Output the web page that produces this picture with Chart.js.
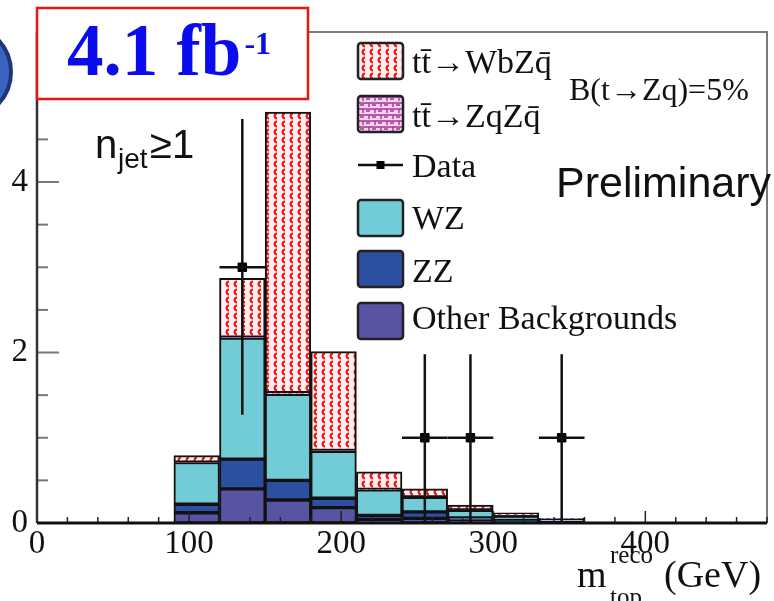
<!DOCTYPE html>
<html>
<head>
<meta charset="utf-8">
<title>m_top reco</title>
<script src="https://cdn.jsdelivr.net/npm/chart.js@4.4.1/dist/chart.umd.min.js"></script>
<style>
  html, body { margin: 0; padding: 0; background: #fff; }
  #wrap { width: 774px; height: 601px; position: relative; }
</style>
</head>
<body>
<div id="wrap"><canvas id="mtopChart"></canvas></div>
<script>
// 30 GeV bins from 0 to 480 GeV (bin centres)
const binCenters = [15, 45, 75, 105, 135, 165, 195, 225, 255, 285, 315, 345, 375, 405, 435, 465];

// stacked components, bottom to top
const otherBkg = [0, 0, 0, 0.12, 0.40, 0.27, 0.18, 0.04, 0.055, 0.035, 0.015, 0.005, 0.004, 0, 0, 0];
const zzBkg    = [0, 0, 0, 0.10, 0.35, 0.23, 0.11, 0.05, 0.075, 0.025, 0.015, 0.005, 0.002, 0, 0, 0];
const wzBkg    = [0, 0, 0, 0.49, 1.42, 1.01, 0.55, 0.30, 0.17, 0.09, 0.05, 0.04, 0.004, 0, 0, 0];
const ttZqZq   = [0, 0, 0, 0.005, 0.01, 0.02, 0.01, 0.005, 0.005, 0.003, 0.002, 0.001, 0, 0, 0, 0];
const ttWbZq   = [0, 0, 0, 0.075, 0.69, 3.29, 1.16, 0.205, 0.095, 0.057, 0.038, 0.004, 0, 0, 0, 0];

// observed events
const dataX = [135, 255, 285, 345];
const dataY = [3, 1, 1, 1];
const dataErrUp = [1.74, 0.98, 0.98, 0.98];
const dataErrDown = [1.73, 1, 1, 1];
const binHalfWidth = 15;

// axis labels
const xTicks = [0, 100, 200, 300, 400];
const yTicks = [0, 2, 4];

const canvasEl = document.getElementById('mtopChart');
const ctx = canvasEl.getContext('2d');

const SERIF = '"Liberation Serif", "Times New Roman", serif';
const SANS = '"Liberation Sans", Arial, sans-serif';

// red "wavy dots" hatch of the t tbar -> WbZq signal
function makeWbZqPattern() {
  const c = document.createElement('canvas');
  c.width = 8; c.height = 8;
  const g = c.getContext('2d');
  g.fillStyle = '#ffecec';
  g.fillRect(0, 0, 8, 8);
  g.strokeStyle = '#ea1515';
  g.lineWidth = 2.2;
  g.beginPath();
  g.arc(5, 4, 2.4, Math.PI * 0.5, Math.PI * 1.5);
  g.stroke();
  return ctx.createPattern(c, 'repeat');
}

// magenta brick hatch of t tbar -> ZqZq
function makeZqZqPattern() {
  const c = document.createElement('canvas');
  c.width = 12; c.height = 12;
  const g = c.getContext('2d');
  g.fillStyle = '#f4d3ec';
  g.fillRect(0, 0, 12, 12);
  g.strokeStyle = '#a5339a';
  g.lineWidth = 1.4;
  g.beginPath();
  g.moveTo(0, 1); g.lineTo(12, 1);
  g.moveTo(0, 7); g.lineTo(12, 7);
  g.moveTo(3, 1); g.lineTo(3, 5);
  g.moveTo(9, 7); g.lineTo(9, 11);
  g.moveTo(6, 3); g.lineTo(10, 3);
  g.moveTo(0, 9); g.lineTo(4, 9);
  g.stroke();
  return ctx.createPattern(c, 'repeat');
}

const wbzqFill = makeWbZqPattern();
const zqzqFill = makeZqZqPattern();

const COLORS = {
  other: '#5654a3',
  zz: '#2b4fa1',
  wz: '#72ccd8'
};

function histDataset(label, values, fill) {
  return {
    label: label,
    data: binCenters.map((x, i) => ({ x: x, y: values[i] })),
    backgroundColor: fill,
    borderColor: '#111',
    borderWidth: 2,
    borderSkipped: false,
    barPercentage: 1,
    categoryPercentage: 1
  };
}

// extra drawing: error bars, inner ticks, frame, legend and labels
const decorPlugin = {
  id: 'decor',
  afterDatasetsDraw(chart) {
    const c = chart.ctx;
    const xs = chart.scales.x;
    const ys = chart.scales.y;
    const area = chart.chartArea;

    // data error bars
    c.save();
    c.strokeStyle = '#111';
    c.lineWidth = 2.5;
    dataX.forEach((x, i) => {
      const px = xs.getPixelForValue(x);
      const py = ys.getPixelForValue(dataY[i]);
      c.beginPath();
      c.moveTo(px, ys.getPixelForValue(dataY[i] + dataErrUp[i]));
      c.lineTo(px, ys.getPixelForValue(dataY[i] - dataErrDown[i]));
      c.moveTo(xs.getPixelForValue(x - binHalfWidth), py);
      c.lineTo(xs.getPixelForValue(x + binHalfWidth), py);
      c.stroke();
    });
    c.restore();

    // frame
    c.save();
    c.strokeStyle = '#7a7a7a';
    c.lineWidth = 2;
    c.beginPath();
    c.moveTo(area.left, area.top);
    c.lineTo(area.right, area.top);
    c.lineTo(area.right, area.bottom);
    c.stroke();

    // y ticks (inside)
    c.strokeStyle = '#777';
    c.lineWidth = 2;
    for (let i = 0; i <= 11; i++) {
      const v = i * 0.5;
      const py = ys.getPixelForValue(v);
      const len = (v % 2 === 0) ? 22 : 11;
      c.beginPath();
      c.moveTo(area.left, py);
      c.lineTo(area.left + len, py);
      c.stroke();
    }

    // x ticks (inside)
    c.strokeStyle = '#222';
    c.lineWidth = 1.5;
    for (let v = 0; v <= 480; v += 20) {
      const px = xs.getPixelForValue(v);
      const len = (v % 100 === 0) ? 12 : 6;
      c.beginPath();
      c.moveTo(px, area.bottom);
      c.lineTo(px, area.bottom - len);
      c.stroke();
    }

    // axes
    c.strokeStyle = '#333';
    c.lineWidth = 2.5;
    c.beginPath();
    c.moveTo(area.left, area.top);
    c.lineTo(area.left, area.bottom);
    c.stroke();
    c.strokeStyle = '#111';
    c.lineWidth = 3;
    c.beginPath();
    c.moveTo(area.left, area.bottom);
    c.lineTo(area.right, area.bottom);
    c.stroke();
    c.restore();
  },
  afterDraw(chart) {
    const c = chart.ctx;
    c.save();

    // partial logo at the left edge
    c.beginPath();
    c.arc(-36, 72, 47, 0, Math.PI * 2);
    c.fillStyle = '#3c62c2';
    c.fill();
    c.lineWidth = 4;
    c.strokeStyle = '#1d3777';
    c.stroke();

    // luminosity box
    c.fillStyle = '#fff';
    c.fillRect(37, 8, 271, 91);
    c.strokeStyle = '#ee1414';
    c.lineWidth = 2.5;
    c.strokeRect(37, 8, 271, 91);
    c.fillStyle = '#0b0bef';
    c.textBaseline = 'alphabetic';
    c.textAlign = 'left';
    c.font = 'bold 73px ' + SERIF;
    c.fillText('4.1 fb', 67, 75);
    const lumW = c.measureText('4.1 fb').width;
    c.font = 'bold 32px ' + SERIF;
    c.fillText('-1', 67 + lumW + 3, 54);

    // n_jet >= 1
    c.fillStyle = '#111';
    c.font = '40px ' + SANS;
    c.fillText('n', 95, 158);
    c.font = '28px ' + SANS;
    c.fillText('jet', 118, 168);
    c.font = '40px ' + SANS;
    c.fillText('\u22651', 150, 158);

    // legend
    const boxX = 358, boxW = 45, boxH = 36;
    const entries = [
      { fill: wbzqFill, top: 43, text: 'tt\u0304\u2192WbZq\u0304', base: 73 },
      { fill: zqzqFill, top: 96, text: 'tt\u0304\u2192ZqZq\u0304', base: 127 },
      { data: true, top: 147, text: 'Data', base: 177 },
      { fill: COLORS.wz, top: 200, text: 'WZ', base: 229 },
      { fill: COLORS.zz, top: 251, text: 'ZZ', base: 282 },
      { fill: COLORS.other, top: 303, text: 'Other Backgrounds', base: 329 }
    ];
    entries.forEach(e => {
      if (e.data) {
        c.strokeStyle = '#111';
        c.lineWidth = 2.5;
        c.beginPath();
        c.moveTo(boxX, 165);
        c.lineTo(boxX + boxW, 165);
        c.stroke();
        c.fillStyle = '#000';
        c.fillRect(boxX + boxW / 2 - 4, 161, 8, 8);
      } else {
        c.beginPath();
        c.roundRect(boxX, e.top, boxW, boxH, 3);
        c.fillStyle = e.fill;
        c.fill();
        c.strokeStyle = '#222';
        c.lineWidth = 2.5;
        c.stroke();
      }
      c.fillStyle = '#111';
      c.font = '34px ' + SERIF;
      c.fillText(e.text, 412, e.base);
    });

    c.font = '32px ' + SERIF;
    c.fillText('B(t\u2192Zq)=5%', 569, 100);

    c.font = '43px ' + SANS;
    c.fillText('Preliminary', 556, 197);

    // x axis title
    c.font = '38px ' + SERIF;
    c.fillText('m', 577, 587);
    c.font = '25px ' + SERIF;
    c.fillText('reco', 610, 563);
    c.fillText('top', 610, 605);
    c.font = '38px ' + SERIF;
    c.fillText('(GeV)', 664, 587);

    c.restore();
  }
};

new Chart(ctx, {
  type: 'bar',
  data: {
    datasets: [
      histDataset('Other Backgrounds', otherBkg, COLORS.other),
      histDataset('ZZ', zzBkg, COLORS.zz),
      histDataset('WZ', wzBkg, COLORS.wz),
      histDataset('tt\u0304\u2192ZqZq\u0304', ttZqZq, zqzqFill),
      histDataset('tt\u0304\u2192WbZq\u0304', ttWbZq, wbzqFill),
      {
        type: 'scatter',
        label: 'Data',
        stack: 'data',
        data: dataX.map((x, i) => ({ x: x, y: dataY[i] })),
        pointStyle: 'rect',
        pointRadius: 6,
        backgroundColor: '#000',
        borderColor: '#000',
        borderWidth: 1
      }
    ]
  },
  options: {
    responsive: true,
    maintainAspectRatio: false,
    animation: false,
    layout: { padding: { top: 32, right: 2, left: 0, bottom: 0 } },
    plugins: {
      legend: { display: false },
      tooltip: { enabled: false }
    },
    scales: {
      x: {
        type: 'linear',
        stacked: true,
        offset: false,
        min: 0,
        max: 480,
        grid: { display: false, drawTicks: false, offset: false },
        border: { display: false },
        afterBuildTicks: s => { s.ticks = xTicks.map(v => ({ value: v })); },
        afterFit: s => { s.height = 78; },
        ticks: {
          font: { family: SERIF, size: 33 },
          color: '#111',
          padding: 2,
          maxRotation: 0,
          autoSkip: false
        }
      },
      y: {
        stacked: true,
        min: 0,
        max: 5.76,
        grid: { display: false, drawTicks: false },
        border: { display: false },
        afterBuildTicks: s => { s.ticks = yTicks.map(v => ({ value: v })); },
        afterFit: s => { s.width = 37; },
        ticks: {
          font: { family: SERIF, size: 33 },
          color: '#111',
          padding: 9
        }
      }
    }
  },
  plugins: [decorPlugin]
});
</script>
</body>
</html>
